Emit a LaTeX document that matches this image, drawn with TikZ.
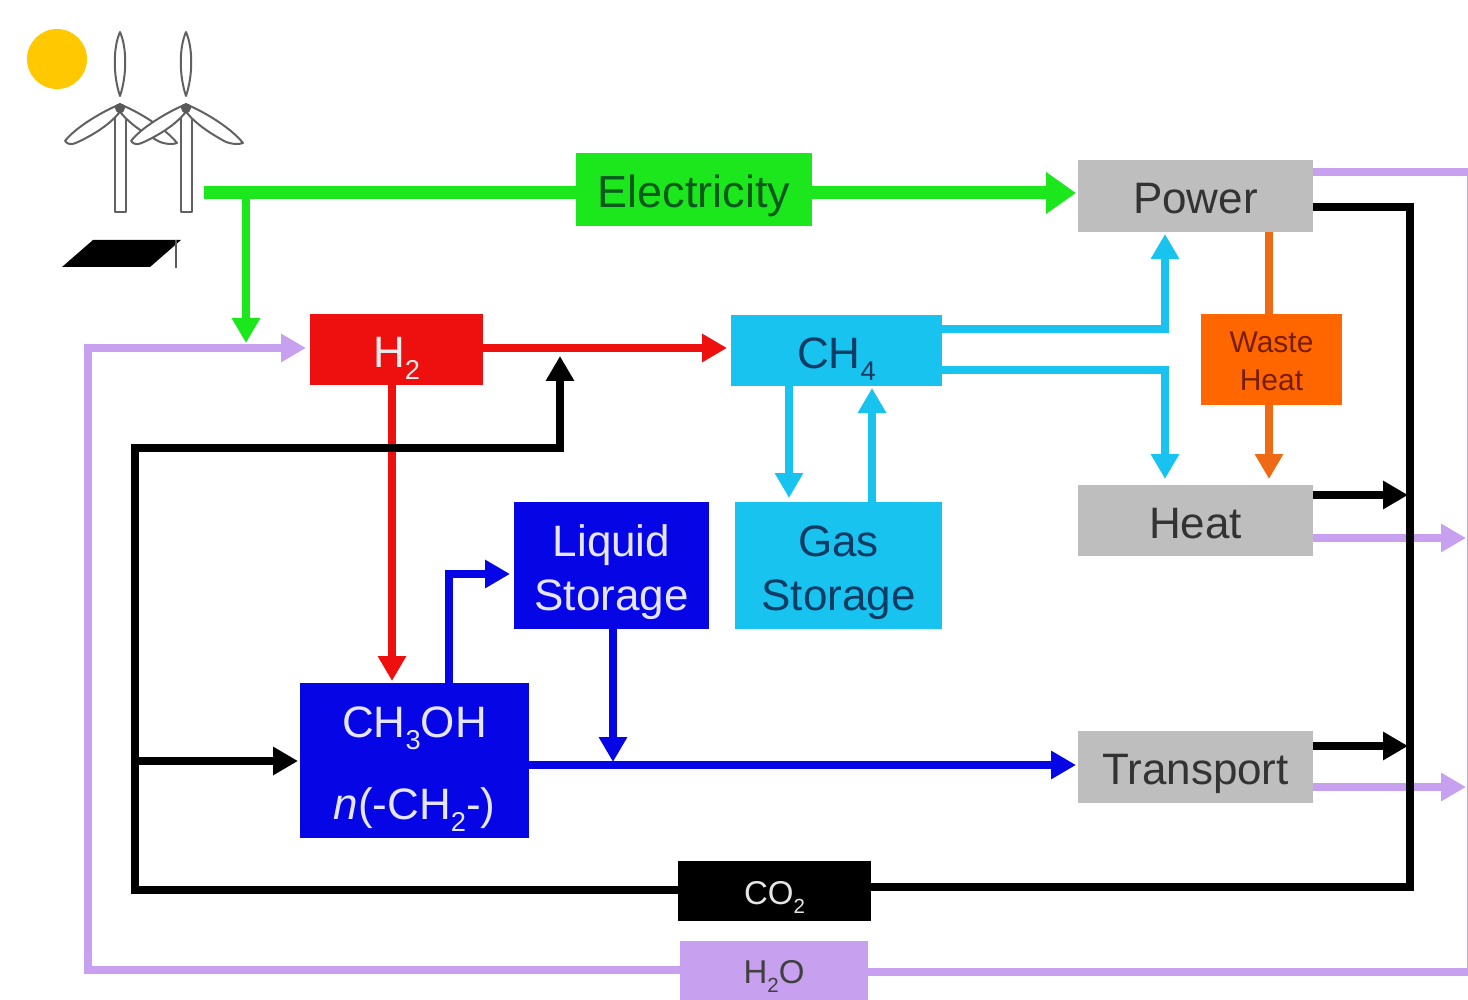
\documentclass[tikz,border=0pt]{standalone}
\usepackage{fontspec}
\setmainfont{Liberation Sans}
\usetikzlibrary{arrows.meta}
\definecolor{cgreen}{HTML}{1CE61C}
\definecolor{cgrey}{HTML}{BEBEBE}
\definecolor{cred}{HTML}{EE0F0F}
\definecolor{ccyan}{HTML}{19C3F0}
\definecolor{corange}{HTML}{FF6600}
\definecolor{corangeline}{HTML}{EE6A14}
\definecolor{cblue}{HTML}{0505E6}
\definecolor{clilac}{HTML}{C8A0F0}
\definecolor{csun}{HTML}{FFC800}
\newcommand{\mysub}[1]{\raisebox{-0.28em}{\scalebox{0.62}{#1}}}
\newcommand{\lab}[1]{\raisebox{-0.40em}[0pt][0pt]{#1}}
\tikzset{
  box/.style={inner sep=0pt,outer sep=0pt,align=center,font=\fontsize{22}{27}\selectfont},
  tipbig/.style={-{Triangle[width=13.5pt,length=12.5pt]}},
  wire/.style={line width=3.6pt,line join=miter},
  glow/.style={wire,cgreen},
  rline/.style={wire,cred},
  cline/.style={wire,ccyan},
  bline/.style={wire,cblue},
  kline/.style={wire,black},
  oline/.style={wire,corangeline},
  lline/.style={wire,clilac},
  blade/.style={draw=black!62,line width=1pt,fill=white,line join=round},
}
\begin{document}
\begin{tikzpicture}[x=0.5pt,y=-0.5pt]
\useasboundingbox (0,0) rectangle (1468,1000);
% source icons
\fill[csun] (57,59) circle[radius=15pt];
\foreach \dx in {0pt,33pt}{
 \begin{scope}[xshift=\dx]
  \draw[blade] (115,112) rectangle (126,212);
  \draw[blade] (120,96) .. controls (113,75) and (113,48) .. (120,32) .. controls (127,48) and (127,75) .. (120,96) -- cycle;
  \draw[blade] (116,106) .. controls (100,113) and (75,128) .. (65,141) .. controls (68,145) and (72,145) .. (78,142) .. controls (95,134) and (110,124) .. (119,113) -- cycle;
  \draw[blade] (124,106) .. controls (140,113) and (165,128) .. (177,143) .. controls (172,145) and (166,144) .. (160,142) .. controls (145,134) and (130,124) .. (121,113) -- cycle;
  \fill[black!65] (120,108) circle[radius=2.5pt];
 \end{scope}
}
\fill[black] (62,267) -- (150,267) -- (181,240) -- (93,240) -- cycle;
\draw[black!65,line width=1pt] (176,240) -- (176,268);
% boxes
\node[box,fill=cgreen,minimum width=118pt,minimum height=36.5pt,text={rgb,255:red,10;green,90;blue,30},font=\fontsize{22.5}{27}\selectfont] (elec) at (694,189.5) {\lab{Electricity}};
\node[box,fill=cgrey,minimum width=117.5pt,minimum height=36pt,text=black!80] (power) at (1195.5,196) {\lab{Power}};
\node[box,fill=cred,minimum width=86.5pt,minimum height=35.5pt,text=white!92!black] (htwo) at (396.5,349.5) {\lab{H\mysub{2}}};
\node[box,fill=ccyan,minimum width=105.5pt,minimum height=35.5pt,text={rgb,255:red,15;green,60;blue,100}] (chf) at (836.5,350.5) {\lab{CH\mysub{4}}};
\node[box,fill=corange,minimum width=70.5pt,minimum height=45.5pt,text={rgb,255:red,120;green,30;blue,0},font=\fontsize{15}{19}\selectfont] (waste) at (1271.5,359.5) {\lab{Waste}\\\lab{Heat}};
\node[box,fill=cgrey,minimum width=117.5pt,minimum height=35.5pt,text=black!80] (heat) at (1195.5,520.5) {\lab{Heat}};
\node[box,fill=cblue,minimum width=97.5pt,minimum height=63.5pt,text=white!90!blue] (liquid) at (611.5,565.5) {\lab{Liquid}\\\lab{Storage}};
\node[box,fill=ccyan,minimum width=103.5pt,minimum height=63.5pt,text={rgb,255:red,15;green,60;blue,100}] (gas) at (838.5,565.5) {\lab{Gas}\\\lab{Storage}};
\node[box,fill=cblue,minimum width=114.5pt,minimum height=77.5pt,text=white!90!blue,font=\fontsize{22}{41}\selectfont] (meth) at (414.5,760.5) {\lab{CH\mysub{3}OH}\\\lab{\textit{n}(-CH\mysub{2}-)}};
\node[box,fill=cgrey,minimum width=117.5pt,minimum height=36pt,text=black!80] (trans) at (1195.5,767) {\lab{Transport}};
\node[box,fill=black,minimum width=96.5pt,minimum height=30pt,text=white!90!black,font=\fontsize{16.5}{20}\selectfont] (co) at (774.5,891) {\lab{CO\mysub{2}}};
\node[box,fill=clilac,minimum width=94pt,minimum height=29.5pt,text=black!75,font=\fontsize{16.5}{20}\selectfont] (water) at (774,970.5) {\lab{H\mysub{2}O}};
% corner coordinates
\coordinate (src) at (204,193);
\coordinate (rightedge) at (1471,172);
\coordinate (exitwater) at (1471,972);
\coordinate (exitheat) at (1466,538);
\coordinate (exittrans) at (1466,787);
% lilac
\draw[lline,tipbig,shorten >=2pt] (water.west |- 0,970) -- (88,970) -- (88,348) -- (htwo.west |- 0,348);
\draw[lline] (water.east |- 0,972) -- (exitwater);
\draw[lline] (power.east |- 0,172) -- (rightedge) -- (exitwater);
\draw[lline,tipbig] (heat.east |- 0,538) -- (exitheat);
\draw[lline,tipbig] (trans.east |- 0,787) -- (exittrans);
% green
\draw[glow,line width=6.5pt] (src) -- (elec.west |- 0,193);
\draw[glow,line width=6.5pt,shorten >=1pt,-{Triangle[width=20pt,length=15pt]}] (elec.east |- 0,193) -- (power.west |- 0,193);
\draw[glow,line width=4pt,tipbig] (246,193) -- (246,343);
% red
\draw[rline,tipbig,shorten >=2pt] (htwo.east |- 0,348) -- (chf.west |- 0,348);
\draw[rline,tipbig,shorten >=1pt] (392,0 |- htwo.south) -- (392,0 |- meth.north);
% black
\draw[kline] (power.east |- 0,207) -- (1410,207) -- (1410,887) -- (co.east |- 0,887);
\draw[kline,tipbig] (co.west |- 0,890) -- (135,890) -- (135,448) -- (560,448) -- (560,356);
\draw[kline,tipbig,shorten >=1pt] (135,761) -- (meth.west |- 0,761);
\draw[kline,tipbig] (heat.east |- 0,495) -- (1408,495);
\draw[kline,tipbig] (trans.east |- 0,746) -- (1408,746);
% cyan
\draw[cline,tipbig,shorten >=1pt] (chf.east |- 0,329) -- (1165,329) -- (1165,0 |- power.south);
\draw[cline,tipbig,shorten >=3pt] (chf.east |- 0,370) -- (1165,370) -- (1165,0 |- heat.north);
\draw[cline,tipbig,shorten >=2pt] (789,0 |- chf.south) -- (789,0 |- gas.north);
\draw[cline,tipbig,shorten >=1pt] (872,0 |- gas.north) -- (872,0 |- chf.south);
% orange
\draw[oline] (1269,0 |- power.south) -- (1269,0 |- waste.north);
\draw[oline,tipbig,shorten >=3pt] (1269,0 |- waste.south) -- (1269,0 |- heat.north);
% blue
\draw[bline,tipbig,shorten >=2pt] (449,0 |- meth.north) -- (449,574) -- (liquid.west |- 0,574);
\draw[bline,tipbig] (613,0 |- liquid.south) -- (613,762);
\draw[bline,tipbig,shorten >=1pt] (meth.east |- 0,765) -- (trans.west |- 0,765);
\end{tikzpicture}
\end{document}
